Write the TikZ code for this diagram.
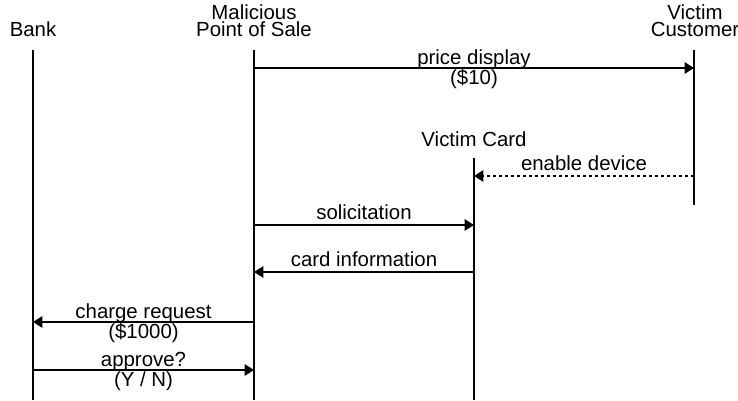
\documentclass[tikz,border=0pt]{standalone}
\usepackage{fontspec}
\setmainfont{Liberation Sans}
\usetikzlibrary{arrows.meta}

\tikzset{
    party/.style={anchor=south, inner sep=0pt, align=center,
        font=\fontsize{15.3}{12.8}\selectfont},
    lifeline/.style={line width=1.4pt},
    msg/.style={line width=1.3pt, -{Triangle[length=7pt,width=8.5pt]}},
    note/.style={anchor=base, inner sep=0pt, yshift=4pt},
    note2/.style={anchor=center, inner sep=0pt, align=center, yshift=-1pt}
}

\begin{document}
\begin{tikzpicture}[x=0.75pt, y=-0.75pt, font=\fontsize{15.3}{15}\selectfont]
        % 1. Canvas
        \useasboundingbox (0,0) rectangle (738,400);

        % 2. Participants and their lifelines
        \node[party] (bank) at (33,37) {Bank};
        \node[party] (pos)  at (254,37) {Malicious\\Point of Sale};
        \node[party] (cust) at (695,37) {Victim\\Customer};
        \node[party] (card) at (474,147) {Victim Card};

        \coordinate (bankA) at (33,50);   \coordinate (bankB) at (33,400);
        \coordinate (posA)  at (254,50);  \coordinate (posB)  at (254,400);
        \coordinate (custA) at (694,50);  \coordinate (custB) at (694,205);
        \coordinate (cardA) at (474,158); \coordinate (cardB) at (474,400);

        \foreach \a/\b in {bankA/bankB, posA/posB, custA/custB, cardA/cardB}
            \draw[lifeline] (\a) -- (\b);

        % 3. Message heights
        \coordinate (m1) at (0,68);
        \coordinate (m2) at (0,176);
        \coordinate (m3) at (0,225);
        \coordinate (m4) at (0,272);
        \coordinate (m5) at (0,322);
        \coordinate (m6) at (0,370);

        % 4. Messages
        \draw[msg] (posA |- m1) -- node[note2] {price display\\(\$10)} (custA |- m1);
        \draw[msg, dash pattern=on 2.5pt off 2pt] (custA |- m2) -- node[note] {enable device} (cardA |- m2);
        \draw[msg] (posA |- m3) -- node[note] {solicitation} (cardA |- m3);
        \draw[msg] (cardA |- m4) -- node[note] {card information} (posA |- m4);
        \draw[msg] (posA |- m5) -- node[note2] {charge request\\(\$1000)} (bankA |- m5);
        \draw[msg] (bankA |- m6) -- node[note2] {approve?\\(Y / N)} (posA |- m6);

    \end{tikzpicture}
\end{document}
